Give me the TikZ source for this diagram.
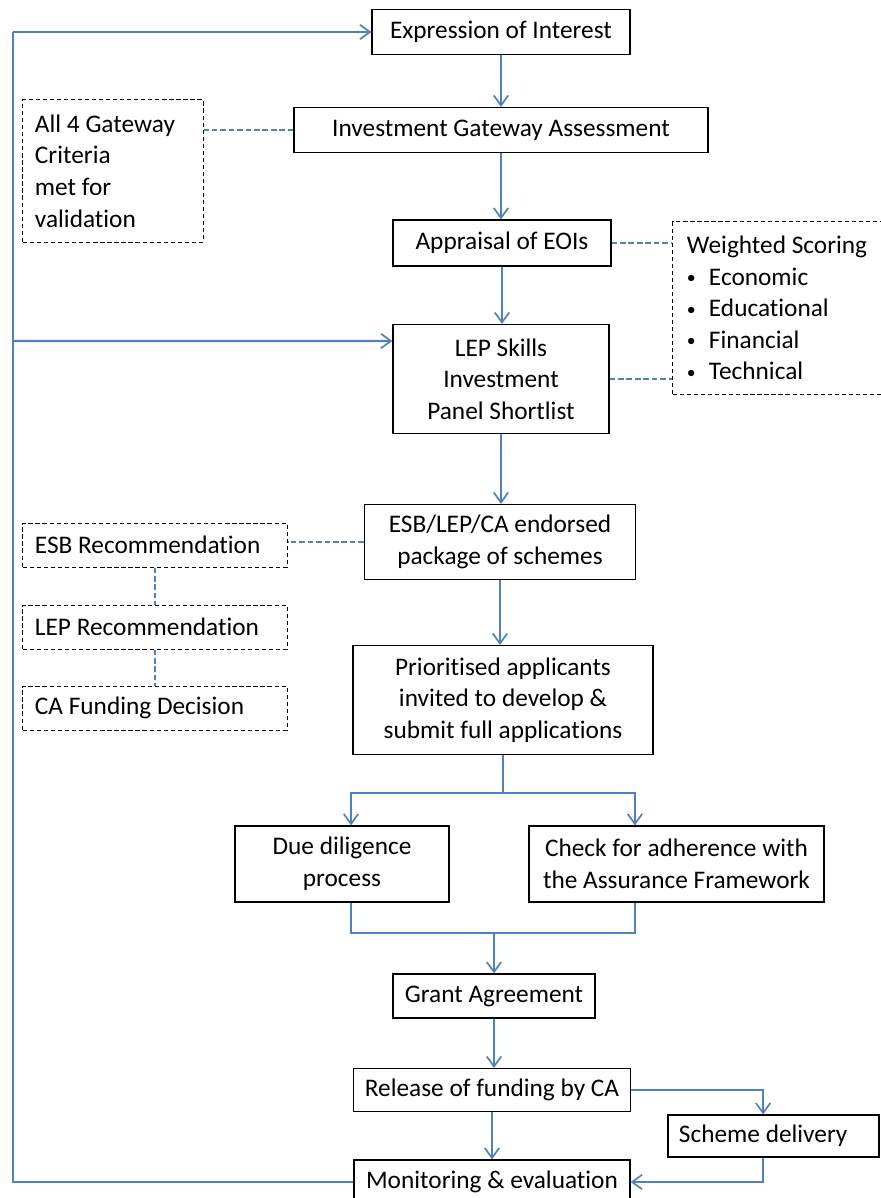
\documentclass[tikz,border=0pt]{standalone}
\usepackage{fontspec}
\usepackage{graphicx}
\setmainfont{Carlito}[Ligatures=CommonOff]
\usetikzlibrary{arrows.meta}
\definecolor{flowblue}{RGB}{79,129,189}
\newcommand{\bulletitem}{\makebox[0.55cm][l]{\raisebox{0.12ex}{\scalebox{0.7}{\textbullet}}}}
\begin{document}
\begin{tikzpicture}[x=0.025cm, y=-0.025cm,
  box/.style={draw, line width=0.8pt, fill=white, align=center, inner sep=0pt, font=\fontsize{18}{22.5}\selectfont},
  note/.style={draw, line width=0.7pt, dash pattern=on 3pt off 2pt, align=flush left, inner ysep=0pt, inner xsep=0.3cm, font=\fontsize{18}{22.5}\selectfont},
  flow/.style={draw=flowblue, line width=1.5pt, -{Straight Barb[length=2.5mm, width=3.6mm, line width=1.2pt]}},
  line/.style={draw=flowblue, line width=1.5pt},
  link/.style={draw=flowblue, line width=1.2pt, dash pattern=on 4pt off 2pt}]
\useasboundingbox (0,0) rectangle (881,1198);
\node[box, minimum width=6.45cm, minimum height=1.125cm] (eoi) at (501,32) {Expression of Interest};
\node[box, minimum width=10.35cm, minimum height=1.125cm] (iga) at (501,130) {Investment Gateway Assessment};
\node[note, text width=3.9cm, minimum height=3.55cm] (gate) at (113,171) {All 4 Gateway\\Criteria\\met for\\validation};
\node[box, minimum width=5.45cm, minimum height=1.15cm] (apr) at (502,243) {Appraisal of EOIs};
\node[note, text width=4.8cm, inner xsep=0.35cm, minimum height=4.3cm] (wts) at (783,308) {Weighted Scoring\\
  \bulletitem Economic\\
  \bulletitem Educational\\
  \bulletitem Financial\\
  \bulletitem Technical};
\node[box, minimum width=5.4cm, minimum height=2.725cm] (lep) at (501,379) {LEP Skills\\Investment\\Panel Shortlist};
\node[box, minimum width=6.775cm, minimum height=1.875cm] (esb) at (500,542) {ESB/LEP/CA endorsed\\package of schemes};
\node[note, text width=6.0cm, minimum height=1.1cm] (esbr) at (155,545) {ESB Recommendation};
\node[note, text width=6.0cm, minimum height=1.1cm] (lepr) at (155,627) {LEP Recommendation};
\node[note, text width=6.0cm, minimum height=1.1cm] (cafd) at (155,708) {CA Funding Decision};
\node[box, minimum width=7.5cm, minimum height=2.725cm] (pri) at (503,700) {Prioritised applicants\\invited to develop \&\\submit full applications};
\node[box, minimum width=5.35cm, minimum height=1.9cm] (due) at (342,864) {Due diligence\\process};
\node[box, minimum width=7.375cm, minimum height=1.9cm] (chk) at (676.5,864) {Check for adherence with\\the Assurance Framework};
\node[box, minimum width=5.05cm, minimum height=1.1cm] (gra) at (494,996) {Grant Agreement};
\node[box, minimum width=6.925cm, minimum height=1.075cm] (rel) at (492,1090) {Release of funding by CA};
\node[box, align=flush left, text width=4.725cm, inner xsep=0.275cm, minimum height=1.05cm] (sch) at (773.5,1136) {Scheme delivery};
\node[box, minimum width=6.9cm, minimum height=1.1cm] (mon) at (492,1182) {Monitoring \& evaluation};
\coordinate (rail) at (13,0);
\coordinate (split) at (503,793);
\coordinate (join) at (494,933);
\draw[flow] (eoi.south) -- (eoi.south |- iga.north);
\draw[flow] (iga.south) -- (iga.south |- apr.north);
\draw[flow] (apr.south) -- (apr.south |- lep.north);
\draw[flow] (lep.south) -- (lep.south |- esb.north);
\draw[flow] (esb.south) -- (esb.south |- pri.north);
\draw[line] (pri.south) -- (split);
\draw[flow] (split) -| ([xshift=0.225cm]due.north);
\draw[flow] (split) -| ([xshift=-1.04cm]chk.north);
\draw[line] ([xshift=0.225cm]due.south) |- (join);
\draw[line] ([xshift=-1.04cm]chk.south) |- (join);
\draw[flow] (join) -- (gra.north);
\draw[flow] (gra.south) -- (gra.south |- rel.north);
\draw[flow] (rel.south) -- (rel.south |- mon.north);
\draw[flow] (rel.east) -| ([xshift=-0.26cm]sch.north);
\draw[flow] ([xshift=-0.26cm]sch.south) |- (mon.east);
\draw[line] (mon.west) -| (rail |- eoi.west);
\draw[flow] (rail |- eoi.west) -- (eoi.west);
\draw[flow] (rail |- lep.west) ++(0,-38) -- ([yshift=0.95cm]lep.west);
\draw[link] (iga.west) -- (iga.west -| gate.east);
\draw[link] (apr.east) -- (apr.east -| wts.west);
\draw[link] (lep.east) -- (lep.east -| wts.west);
\draw[link] (esb.west) -- (esb.west -| esbr.east);
\draw[link] (esbr.south) -- (lepr.north);
\draw[link] (lepr.south) -- (cafd.north);
\end{tikzpicture}
\end{document}
